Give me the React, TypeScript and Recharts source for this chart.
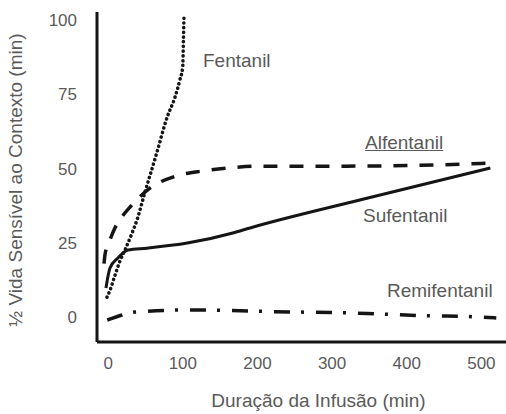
import React from "react";
import { LineChart, Line, XAxis, YAxis } from "recharts";

// Duração da Infusão (min) vs ½ Vida Sensível ao Contexto (min)
const fentanilMin = [-1.6, 2.4, 9, 16, 22.5, 32, 38.6, 49, 65, 79, 89.5, 96, 99.8, 100.8, 101.6];
const fentanilHalf = [6.7, 9, 14, 19, 22.6, 28.3, 32.7, 41.8, 55.2, 67.3, 74, 79.8, 84.2, 93, 101.7];

const alfentanilMin = [-5.6, -4.3, 2.4, 9, 20, 30.6, 56, 91, 127, 163, 201, 300, 400, 508];
const alfentanilHalf = [18, 21, 26, 30, 34.3, 37.4, 43.4, 47.5, 49.2, 50.2, 50.8, 50.8, 51, 51.8];

const sufentanilMin = [-3, 2.4, 13, 26.5, 52, 106, 167, 190, 337, 512];
const sufentanilHalf = [9.8, 16.5, 19.9, 22.6, 23.2, 24.9, 28.3, 30, 39.4, 50.2];

const remifentanilMin = [-1.3, 19, 36, 110, 245, 311, 365, 418, 500, 520];
const remifentanilHalf = [-1, 0.7, 1.7, 2.4, 1.7, 1.5, 1.0, 0.5, 0, -0.3];

const xTicks = [0, 100, 200, 300, 400, 500];
const yTicks = [0, 25, 50, 75, 100];

const seriesNames = ["Fentanil", "Alfentanil", "Sufentanil", "Remifentanil"];

const zip = (xs: number[], ys: number[]) => xs.map((x, i) => ({ x, y: ys[i] }));

const FONT = "'Liberation Sans', Arial, sans-serif";
const TEXT = "#5a5a5a";
const INK = "#151515";

const YTitle = (props: any) => {
  const vb = props.viewBox || { x: 0, y: 0, width: 0, height: 0 };
  const cx = 15;
  const cy = vb.y + vb.height / 2 + 3;
  return (
    <text
      x={cx}
      y={cy}
      transform={`rotate(-90 ${cx} ${cy})`}
      textAnchor="middle"
      dominantBaseline="central"
      fill={TEXT}
      fontSize={19}
      fontFamily={FONT}
    >
      ½ Vida Sensível ao Contexto (min)
    </text>
  );
};

const XTitle = (props: any) => {
  const vb = props.viewBox || { x: 0, y: 0, width: 0, height: 0 };
  const cx = vb.x + vb.width / 2 + 17;
  return (
    <text
      x={cx}
      y={407}
      textAnchor="middle"
      fill={TEXT}
      fontSize={19}
      fontFamily={FONT}
    >
      Duração da Infusão (min)
    </text>
  );
};

const labelStyle: React.CSSProperties = {
  position: "absolute",
  fontFamily: FONT,
  fontSize: 19,
  lineHeight: "19px",
  color: TEXT,
  whiteSpace: "nowrap",
};

export default function App() {
  return (
    <div style={{ position: "absolute", left: 0, top: 0, width: 506, height: 414, background: "#fff" }}>
      <LineChart
        width={506}
        height={414}
        margin={{ top: 12, right: 0, bottom: 12, left: 17 }}
      >
        <XAxis
          type="number"
          dataKey="x"
          domain={[-15, 533]}
          ticks={xTicks}
          allowDataOverflow
          height={60}
          tickLine={false}
          tickSize={0}
          tickMargin={15}
          axisLine={{ stroke: INK, strokeWidth: 3 }}
          tick={{ fill: TEXT, fontSize: 17, fontFamily: FONT }}
          label={{ content: XTitle }}
        />
        <YAxis
          type="number"
          dataKey="y"
          domain={[-8.4, 102.7]}
          ticks={yTicks}
          allowDataOverflow
          width={80}
          tickLine={false}
          tickSize={0}
          tickMargin={20}
          axisLine={{ stroke: INK, strokeWidth: 3 }}
          tick={{ fill: TEXT, fontSize: 17, fontFamily: FONT }}
          label={{ content: YTitle }}
        />
        <Line
          data={zip(remifentanilMin, remifentanilHalf)}
          dataKey="y"
          name={seriesNames[3]}
          type="monotone"
          stroke={INK}
          strokeWidth={3.5}
          strokeDasharray="16 11 3 12"
          dot={false}
          isAnimationActive={false}
        />
        <Line
          data={zip(sufentanilMin, sufentanilHalf)}
          dataKey="y"
          name={seriesNames[2]}
          type="monotone"
          stroke={INK}
          strokeWidth={3}
          dot={false}
          isAnimationActive={false}
        />
        <Line
          data={zip(alfentanilMin, alfentanilHalf)}
          dataKey="y"
          name={seriesNames[1]}
          type="monotone"
          stroke={INK}
          strokeWidth={3.5}
          strokeDasharray="14 12"
          dot={false}
          isAnimationActive={false}
        />
        <Line
          data={zip(fentanilMin, fentanilHalf)}
          dataKey="y"
          name={seriesNames[0]}
          type="monotone"
          stroke={INK}
          strokeWidth={3.6}
          strokeLinecap="round"
          strokeDasharray="0.1 4.6"
          dot={false}
          isAnimationActive={false}
        />
      </LineChart>
      <div style={{ ...labelStyle, left: 203, top: 51 }}>{seriesNames[0]}</div>
      <div style={{ ...labelStyle, left: 365, top: 133, textDecoration: "underline" }}>{seriesNames[1]}</div>
      <div style={{ ...labelStyle, left: 363, top: 206 }}>{seriesNames[2]}</div>
      <div style={{ ...labelStyle, left: 387, top: 281 }}>{seriesNames[3]}</div>
    </div>
  );
}
